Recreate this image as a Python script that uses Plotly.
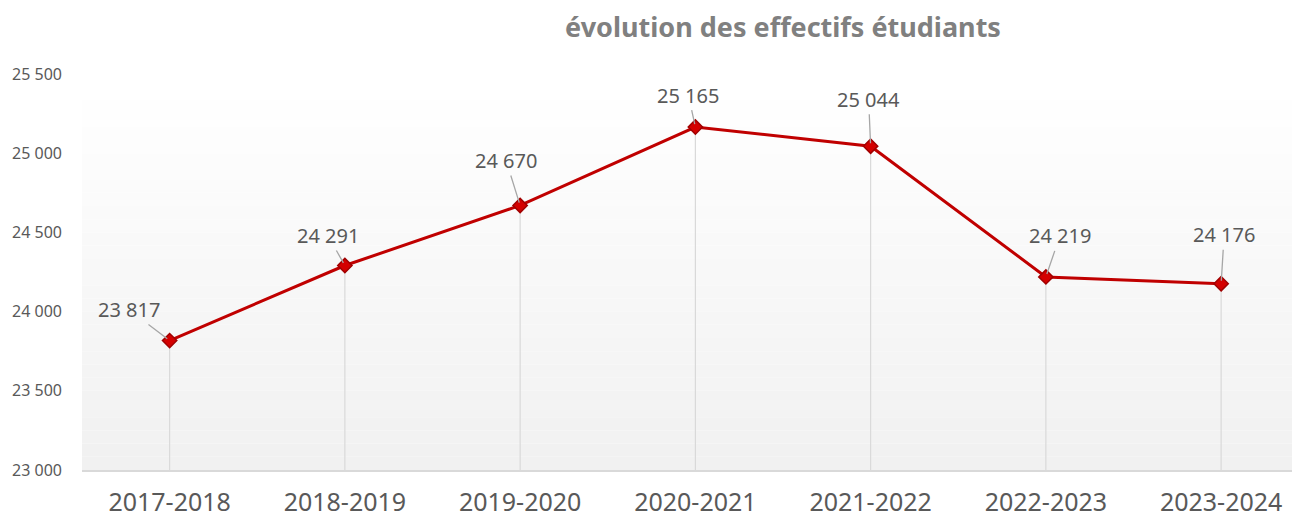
import plotly.graph_objects as go

categories = ["2017-2018", "2018-2019", "2019-2020", "2020-2021", "2021-2022", "2022-2023", "2023-2024"]
effectifs = [23817, 24291, 24670, 25165, 25044, 24219, 24176]
y_ticks = [23000, 23500, 24000, 24500, 25000, 25500]
y_tick_labels = ["23 000", "23 500", "24 000", "24 500", "25 000", "25 500"]
y_base = 23000
y_top = 25500

# label offsets (pixels) for the data labels with leader lines
label_dx = [-41, -17, -14, -7, -2, 14, 3]
label_dy = [-31, -30, -45, -32, -47, -41, -49]

def fmt(v):
    return f"{v:,}".replace(",", " ")

fig = go.Figure()

# drop lines to the axis
fig.add_trace(go.Scatter(
    x=categories, y=effectifs, mode="markers",
    marker=dict(size=1, color="rgba(0,0,0,0)"),
    error_y=dict(type="data", symmetric=False,
                 array=[0] * len(effectifs),
                 arrayminus=[v - y_base for v in effectifs],
                 color="#d9d9d9", thickness=1.2, width=0),
    hoverinfo="skip", showlegend=False))

fig.add_trace(go.Scatter(
    x=categories, y=effectifs, mode="lines+markers",
    line=dict(color="#c00000", width=3),
    marker=dict(symbol="diamond", size=11, color="#d40000",
                line=dict(color="#a00000", width=1.5)),
    showlegend=False))

for c, v, dx, dy in zip(categories, effectifs, label_dx, label_dy):
    fig.add_annotation(x=c, y=v, text=fmt(v), showarrow=True,
                       ax=dx, ay=dy, arrowhead=0, arrowwidth=1.3,
                       arrowcolor="#a6a6a6", standoff=3, startstandoff=0,
                       font=dict(family="Noto Sans", size=20, color="#595959"))

# background gradient in the plot area
n = 30
for i in range(n):
    t = i / (n - 1)
    g = int(round(255 - 14 * t))
    fig.add_shape(type="rect", xref="paper", yref="paper",
                  x0=0, x1=1, y0=1 - (i + 1) / n, y1=1 - i / n,
                  fillcolor=f"rgb({g},{g},{g})", line=dict(width=0),
                  layer="below")

W, H = 1292, 510
fig.update_layout(
    width=W, height=H,
    margin=dict(l=74, r=0, t=66, b=48, autoexpand=False),
    paper_bgcolor="white", plot_bgcolor="white",
    title=dict(text="<b>évolution des effectifs étudiants</b>",
               xref="container", x=775 / W, xanchor="center",
               yref="container", y=1 - 20 / H, yanchor="middle",
               font=dict(family="Noto Sans", size=27, color="#808080")),
    xaxis=dict(type="category", range=[-0.5, 6.45], showgrid=False,
               automargin=False,
               showline=True, linecolor="#d9d9d9", linewidth=1.5,
               ticks="", ticklabelstandoff=9,
               tickfont=dict(family="Noto Sans", size=25, color="#595959")),
    yaxis=dict(range=[y_base, y_top], tickvals=y_ticks, ticktext=y_tick_labels,
               automargin=False,
               showgrid=False, zeroline=False, showline=False, ticks="",
               ticklabelstandoff=19,
               tickfont=dict(family="Noto Sans", size=16, color="#595959")),
)

fig.write_html("out.html")
